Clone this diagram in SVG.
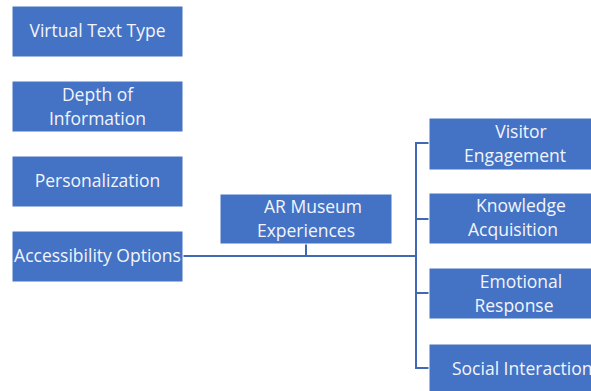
<svg xmlns="http://www.w3.org/2000/svg" width="591" height="391" viewBox="0 0 591 391">
  <style>
    .box { fill: #4472C4; stroke: #FFFFFF; stroke-width: 1; }
    .lbl { font-family: "Open Sans", "Liberation Sans", sans-serif; font-size: 17.5px; fill: #F2F5FB; }
    .wire { fill: none; stroke: #4068B4; stroke-width: 2; }
  </style>
  <rect width="591" height="391" fill="#FFFFFF"/>

  <!-- connectors -->
  <g id="connectors">
    <path class="wire" d="M183 256 H416"/>
    <path class="wire" d="M306 244 V256"/>
    <path class="wire" d="M429 143 H416 V368 H429"/>
    <path class="wire" d="M416 219 H429"/>
    <path class="wire" d="M416 293 H429"/>
  </g>

  <!-- left column -->
  <g id="virtual-text-type">
    <rect class="box" x="12" y="6" width="171" height="51"/>
    <text class="lbl" x="97.5" y="37" text-anchor="middle">Virtual Text Type</text>
  </g>
  <g id="depth-of-information">
    <rect class="box" x="12" y="81" width="171" height="51"/>
    <text class="lbl" x="97.5" y="101" text-anchor="middle">Depth of</text>
    <text class="lbl" x="97.5" y="125" text-anchor="middle">Information</text>
  </g>
  <g id="personalization">
    <rect class="box" x="12" y="156" width="171" height="51"/>
    <text class="lbl" x="97.5" y="187" text-anchor="middle">Personalization</text>
  </g>
  <g id="accessibility-options">
    <rect class="box" x="12" y="231" width="171" height="51"/>
    <text class="lbl" x="97.5" y="262" text-anchor="middle">Accessibility Options</text>
  </g>

  <!-- centre -->
  <g id="ar-museum-experiences">
    <rect class="box" x="220" y="194" width="172" height="50"/>
    <text class="lbl" x="313" y="213" text-anchor="middle">AR Museum</text>
    <text class="lbl" x="306" y="237" text-anchor="middle">Experiences</text>
  </g>

  <!-- right column -->
  <g id="visitor-engagement">
    <rect class="box" x="429" y="118" width="172" height="52"/>
    <text class="lbl" x="521" y="138" text-anchor="middle">Visitor</text>
    <text class="lbl" x="515" y="162" text-anchor="middle">Engagement</text>
  </g>
  <g id="knowledge-acquisition">
    <rect class="box" x="429" y="193" width="172" height="51"/>
    <text class="lbl" x="521" y="212" text-anchor="middle">Knowledge</text>
    <text class="lbl" x="513" y="236" text-anchor="middle">Acquisition</text>
  </g>
  <g id="emotional-response">
    <rect class="box" x="429" y="268" width="172" height="51"/>
    <text class="lbl" x="521" y="288" text-anchor="middle">Emotional</text>
    <text class="lbl" x="514" y="312" text-anchor="middle">Response</text>
  </g>
  <g id="social-interaction">
    <rect class="box" x="429" y="344" width="172" height="52"/>
    <text class="lbl" x="452" y="375">Social Interaction</text>
  </g>
</svg>
